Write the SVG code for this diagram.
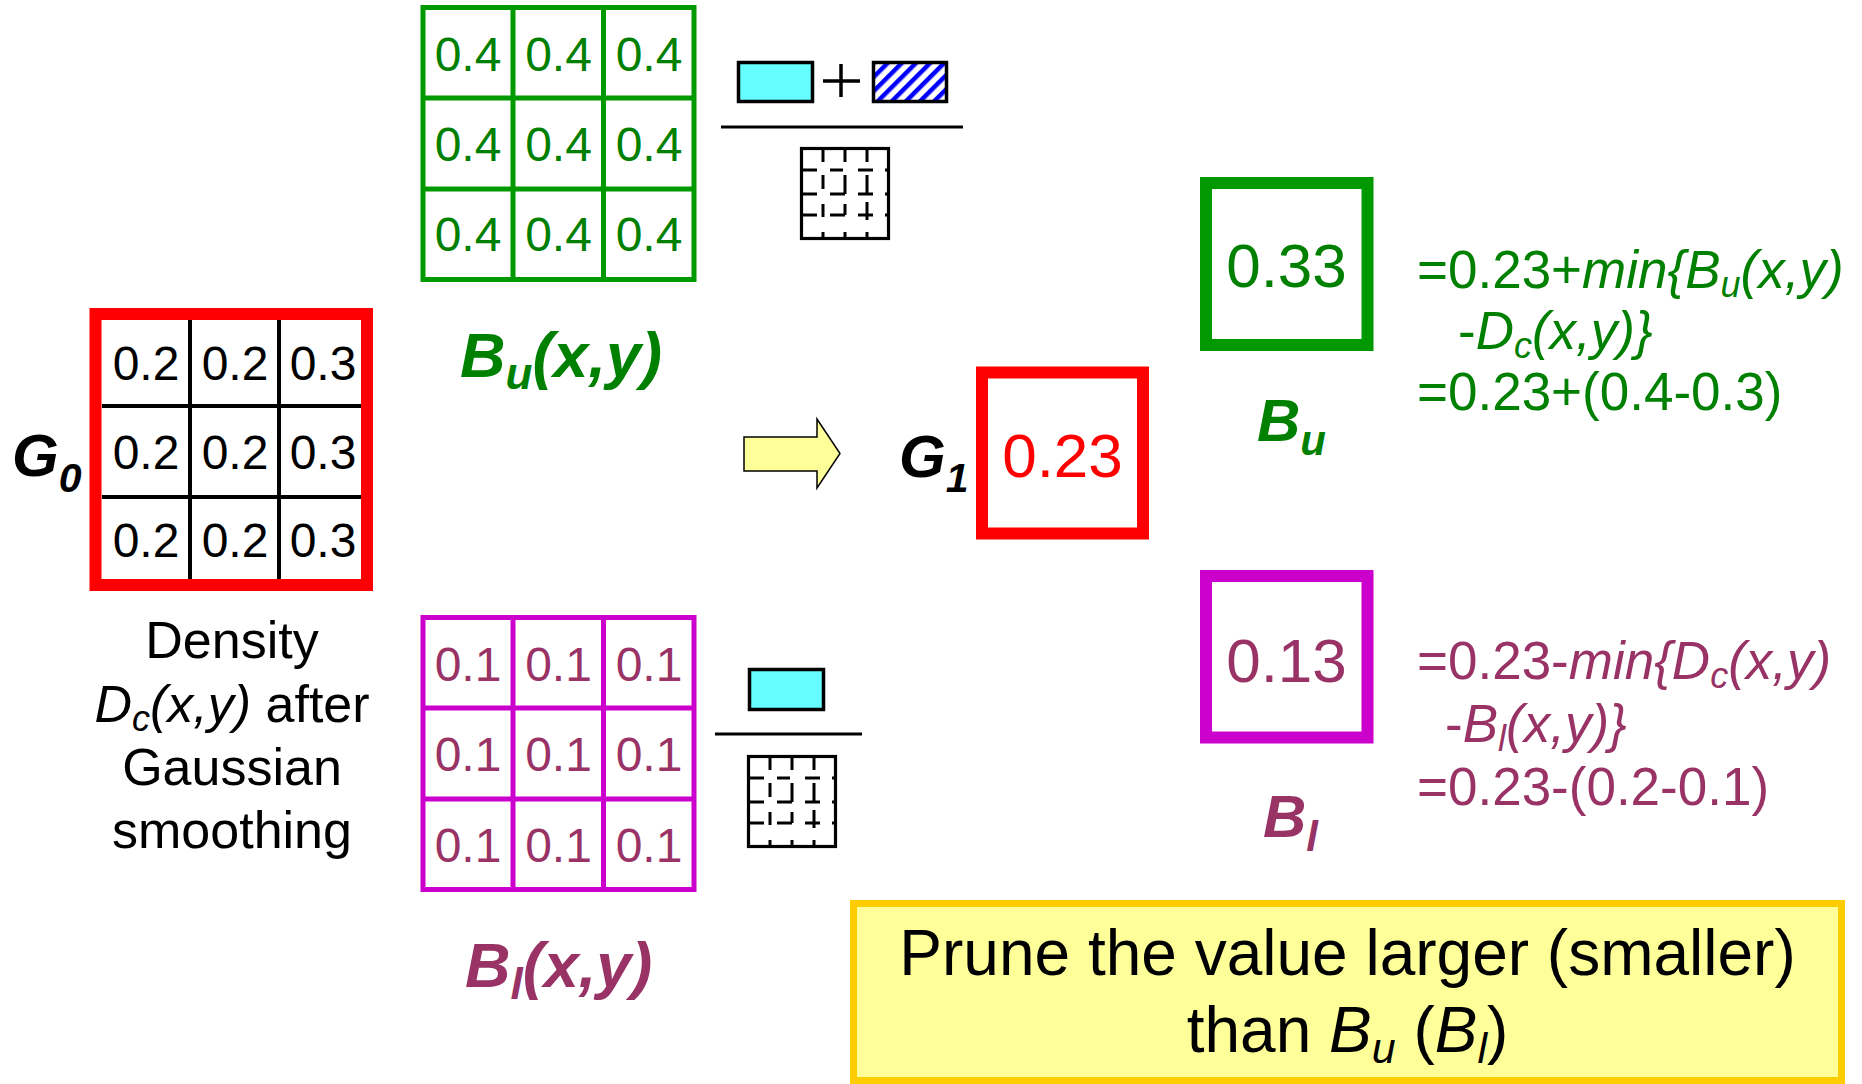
<svg xmlns="http://www.w3.org/2000/svg" width="1862" height="1084" viewBox="0 0 1862 1084">
<style>
  text { font-family: "Liberation Sans", Arial, Helvetica, sans-serif; }
  .num { font-size: 48px; text-anchor: middle; }
  .k { fill: #000000; }
  .g { fill: #008000; }
  .p { fill: #993366; }
  .r { fill: #FF0000; }
  .bi { font-weight: bold; font-style: italic; }
  .it { font-style: italic; }
  .frm { font-size: 53px; }
  .big { font-size: 62px; text-anchor: middle; }
  .gl { fill: none; stroke: #009900; stroke-width: 5; }
  .ml { fill: none; stroke: #CC00CC; stroke-width: 5; }
  .ic { fill: none; stroke: #000; stroke-width: 3; }
  .mid { text-anchor: middle; }
</style>
<defs>
  <pattern id="hatch" patternUnits="userSpaceOnUse" width="10" height="10" patternTransform="rotate(45)">
    <rect x="0" y="0" width="10" height="10" fill="#fff"/>
    <rect x="0" y="0" width="4.5" height="10" fill="#0000FF"/>
  </pattern>
  <g id="gridIcon">
    <rect x="1.5" y="1.5" width="87" height="90" fill="#fff" stroke="#000" stroke-width="3.2"/>
    <path class="ic" d="M23 2V15M23 28V42M23 57V70M23 85V91 M45 2V15M45 28V47M45 57V68M45 85V91 M67 2V15M67 28V47M67 55V73M67 85V91 M2 23H17M30 23H43M58 23H73M85 23H89 M2 47H17M30 47H45M58 47H73M85 47H89 M2 68H17M30 68H45M58 68H73M85 68H89"/>
  </g>
</defs>
<rect width="1862" height="1084" fill="#ffffff"/>

<!-- G0 grid -->
<g id="G0">
  <rect x="95.5" y="314" width="271.5" height="271" fill="#fff"/>
  <path d="M190 320V579M279 320V579M102 406H361M102 497H361" stroke="#000" stroke-width="4" fill="none"/>
  <rect x="95.5" y="314" width="271.5" height="271" fill="none" stroke="#FF0000" stroke-width="12"/>
  <g class="num k">
    <text x="146" y="380">0.2</text><text x="235" y="380">0.2</text><text x="323" y="380">0.3</text>
    <text x="146" y="469">0.2</text><text x="235" y="469">0.2</text><text x="323" y="469">0.3</text>
    <text x="146" y="557">0.2</text><text x="235" y="557">0.2</text><text x="323" y="557">0.3</text>
  </g>
</g>
<g id="G0-label">
  <text x="12" y="476" class="bi k" font-size="60">G<tspan font-size="41" dy="16">0</tspan></text>
</g>
<g id="density-label" class="k" font-size="52">
  <text x="232" y="658" class="mid">Density</text>
  <text x="232" y="722" class="mid"><tspan class="it">D</tspan><tspan class="it" font-size="36" dy="9">c</tspan><tspan class="it" dy="-9">(x,y)</tspan> after</text>
  <text x="232" y="785" class="mid">Gaussian</text>
  <text x="232" y="848" class="mid">smoothing</text>
</g>

<!-- Bu grid -->
<g id="Bu-grid">
  <rect x="423" y="7.5" width="271" height="272" fill="#fff" class="gl"/>
  <path class="gl" d="M513 7.5V279.5M603.5 7.5V279.5M423 98H694M423 189H694"/>
  <g class="num g">
    <text x="468" y="71">0.4</text><text x="558.5" y="71">0.4</text><text x="649" y="71">0.4</text>
    <text x="468" y="161">0.4</text><text x="558.5" y="161">0.4</text><text x="649" y="161">0.4</text>
    <text x="468" y="251">0.4</text><text x="558.5" y="251">0.4</text><text x="649" y="251">0.4</text>
  </g>
</g>
<g id="Bu-grid-label">
  <text x="460" y="377" class="bi g" font-size="63">B<tspan font-size="44" dy="12">u</tspan><tspan dy="-12">(x,y)</tspan></text>
</g>

<!-- Bl grid -->
<g id="Bl-grid">
  <rect x="423" y="617.5" width="271" height="272" fill="#fff" class="ml"/>
  <path class="ml" d="M513 617.5V889.5M603.5 617.5V889.5M423 708H694M423 799H694"/>
  <g class="num p">
    <text x="468" y="681">0.1</text><text x="558.5" y="681">0.1</text><text x="649" y="681">0.1</text>
    <text x="468" y="771">0.1</text><text x="558.5" y="771">0.1</text><text x="649" y="771">0.1</text>
    <text x="468" y="862">0.1</text><text x="558.5" y="862">0.1</text><text x="649" y="862">0.1</text>
  </g>
</g>
<g id="Bl-grid-label">
  <text x="465" y="987" class="bi p" font-size="63">B<tspan font-size="44" dy="12">l</tspan><tspan dy="-12">(x,y)</tspan></text>
</g>

<!-- upper formula icon -->
<g id="upper-icon">
  <rect x="738.5" y="62.5" width="74" height="39" fill="#66FFFF" stroke="#000" stroke-width="3.5"/>
  <path d="M823 81H860M841 64V97" stroke="#000" stroke-width="3.5" fill="none"/>
  <rect x="873.5" y="62.5" width="73" height="39" fill="url(#hatch)" stroke="#000" stroke-width="3.5"/>
  <path d="M721 127H963" stroke="#000" stroke-width="3"/>
  <use href="#gridIcon" transform="translate(800,147)"/>
</g>

<!-- lower formula icon -->
<g id="lower-icon">
  <rect x="749.5" y="669.5" width="74" height="40" fill="#66FFFF" stroke="#000" stroke-width="3.5"/>
  <path d="M715 734H862" stroke="#000" stroke-width="3"/>
  <use href="#gridIcon" transform="translate(747,755)"/>
</g>

<!-- connectors -->
<g id="connectors">
  <path d="M744 437H817V419L840 453.5L817 488V471H744Z" fill="#FFFF99" stroke="#000" stroke-width="1.5" stroke-linejoin="miter"/>
</g>

<!-- G1 -->
<g id="G1-label">
  <text x="899" y="477" class="bi k" font-size="60">G<tspan font-size="41" dy="15">1</tspan></text>
</g>
<g id="G1">
  <rect x="982" y="372.5" width="161" height="161" fill="#fff" stroke="#FF0000" stroke-width="12"/>
  <text x="1062.5" y="477" class="big r">0.23</text>
</g>

<!-- Bu box -->
<g id="Bu">
  <rect x="1206" y="183" width="161.5" height="162" fill="#fff" stroke="#009900" stroke-width="12"/>
  <text x="1286.5" y="287" class="big g">0.33</text>
  <text x="1257" y="441" class="bi g" font-size="60">B<tspan font-size="42" dy="14">u</tspan></text>
</g>
<g id="Bu-formula" class="g frm">
  <text x="1417" y="288">=0.23+<tspan class="it">min{B</tspan><tspan class="it" font-size="36" dy="9">u</tspan><tspan class="it" dy="-9">(x,y)</tspan></text>
  <text x="1458" y="349">-<tspan class="it">D</tspan><tspan class="it" font-size="36" dy="9">c</tspan><tspan class="it" dy="-9">(x,y)}</tspan></text>
  <text x="1417" y="410">=0.23+(0.4-0.3)</text>
</g>

<!-- Bl box -->
<g id="Bl">
  <rect x="1206" y="576" width="161.5" height="161.5" fill="#fff" stroke="#CC00CC" stroke-width="12"/>
  <text x="1286.5" y="682" class="big p">0.13</text>
  <text x="1263" y="837" class="bi p" font-size="60">B<tspan font-size="42" dy="14">l</tspan></text>
</g>
<g id="Bl-formula" class="p frm">
  <text x="1417" y="679">=0.23-<tspan class="it">min{D</tspan><tspan class="it" font-size="36" dy="9">c</tspan><tspan class="it" dy="-9">(x,y)</tspan></text>
  <text x="1445" y="742">-<tspan class="it">B</tspan><tspan class="it" font-size="36" dy="9">l</tspan><tspan class="it" dy="-9">(x,y)}</tspan></text>
  <text x="1417" y="805">=0.23-(0.2-0.1)</text>
</g>

<!-- note box -->
<g id="note">
  <rect x="853.5" y="903.5" width="988" height="177" fill="#FFFF99" stroke="#FFCC00" stroke-width="7"/>
  <text x="1347.5" y="975" class="k mid" font-size="64">Prune the value larger (smaller)</text>
  <text x="1347.5" y="1052" class="k mid" font-size="64">than <tspan class="it">B</tspan><tspan class="it" font-size="43" dy="11">u</tspan><tspan dy="-11"> (</tspan><tspan class="it">B</tspan><tspan class="it" font-size="43" dy="11">l</tspan><tspan dy="-11">)</tspan></text>
</g>
</svg>
